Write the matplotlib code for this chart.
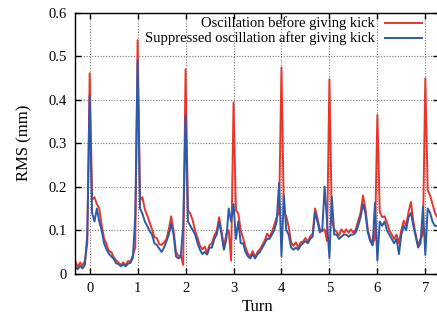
import numpy as np
import matplotlib.pyplot as plt
from matplotlib.lines import Line2D

plt.rcParams['font.family'] = ['Liberation Serif', 'DejaVu Serif']

# turn axis, sampled every 0.05 turn
turn = np.round(np.arange(-0.3, 7.26, 0.05), 2)

rms_before = [
    0.030, 0.015, 0.026, 0.018, 0.030, 0.070,
    0.461, 0.170, 0.176, 0.160, 0.150, 0.110, 0.082, 0.068, 0.052, 0.050,
    0.038, 0.031, 0.026, 0.020, 0.026, 0.019, 0.029, 0.028, 0.042, 0.060,
    0.537, 0.168, 0.176, 0.148, 0.134, 0.118, 0.102, 0.084, 0.082, 0.068,
    0.066, 0.072, 0.079, 0.102, 0.132, 0.098, 0.050, 0.041, 0.042, 0.020,
    0.470, 0.146, 0.138, 0.122, 0.098, 0.082, 0.064, 0.056, 0.062, 0.048,
    0.066, 0.070, 0.088, 0.098, 0.130, 0.098, 0.060, 0.092, 0.100, 0.030,
    0.393, 0.146, 0.138, 0.100, 0.082, 0.060, 0.046, 0.040, 0.052, 0.038,
    0.050, 0.056, 0.066, 0.076, 0.092, 0.084, 0.096, 0.112, 0.130, 0.140,
    0.474, 0.140, 0.132, 0.108, 0.072, 0.064, 0.072, 0.060, 0.072, 0.074,
    0.082, 0.074, 0.086, 0.092, 0.150, 0.128, 0.102, 0.098, 0.102, 0.075,
    0.447, 0.122, 0.102, 0.096, 0.088, 0.102, 0.094, 0.102, 0.094, 0.102,
    0.094, 0.102, 0.122, 0.140, 0.180, 0.150, 0.102, 0.080, 0.070, 0.080,
    0.365, 0.142, 0.130, 0.132, 0.118, 0.100, 0.090, 0.080, 0.090, 0.070,
    0.100, 0.122, 0.110, 0.142, 0.165, 0.120, 0.090, 0.065, 0.080, 0.090,
    0.449, 0.192, 0.180, 0.160, 0.140, 0.130,
]

rms_after = [
    0.015, 0.010, 0.018, 0.012, 0.020, 0.090,
    0.409, 0.140, 0.120, 0.150, 0.120, 0.100, 0.070, 0.056, 0.046, 0.040,
    0.034, 0.024, 0.022, 0.017, 0.021, 0.017, 0.023, 0.025, 0.036, 0.130,
    0.490, 0.150, 0.138, 0.120, 0.110, 0.098, 0.090, 0.070, 0.066, 0.058,
    0.050, 0.060, 0.074, 0.090, 0.115, 0.090, 0.040, 0.035, 0.040, 0.110,
    0.365, 0.120, 0.110, 0.100, 0.090, 0.070, 0.055, 0.045, 0.050, 0.044,
    0.060, 0.060, 0.080, 0.090, 0.120, 0.090, 0.055, 0.080, 0.150, 0.120,
    0.160, 0.080, 0.120, 0.070, 0.070, 0.050, 0.040, 0.035, 0.045, 0.035,
    0.045, 0.050, 0.060, 0.070, 0.080, 0.080, 0.090, 0.100, 0.120, 0.208,
    0.040, 0.180, 0.100, 0.090, 0.060, 0.055, 0.060, 0.055, 0.065, 0.070,
    0.075, 0.070, 0.080, 0.085, 0.140, 0.120, 0.095, 0.100, 0.200, 0.120,
    0.036, 0.177, 0.090, 0.090, 0.080, 0.085, 0.090, 0.090, 0.085, 0.090,
    0.090, 0.095, 0.110, 0.130, 0.160, 0.140, 0.095, 0.075, 0.065, 0.163,
    0.030, 0.120, 0.110, 0.120, 0.100, 0.090, 0.080, 0.070, 0.080, 0.045,
    0.090, 0.110, 0.100, 0.130, 0.140, 0.110, 0.085, 0.060, 0.070, 0.154,
    0.043, 0.150, 0.140, 0.120, 0.110, 0.110,
]

red = '#e8362c'
blue = '#2d5aa6'

fig = plt.figure(figsize=(4.37, 3.2), dpi=100)
# right edge of the frame sits just past the image border, as in the original
ax = fig.add_axes([75.3 / 437, 1 - 273.7 / 320, (439 - 75.3) / 437, (273.7 - 12.7) / 320])

ax.plot(turn, rms_before, color=red, lw=1.4)
ax.plot(turn, rms_after, color=blue, lw=1.4)

ax.set_xlim(-0.3, 7 + (439 - 425.3) / 48)
ax.set_ylim(0, 0.6)
ax.set_xticks(range(0, 8))
ax.set_yticks([0, 0.1, 0.2, 0.3, 0.4, 0.5, 0.6])
ax.set_yticklabels(['0', '0.1', '0.2', '0.3', '0.4', '0.5', '0.6'])
ax.tick_params(direction='in', length=4, width=1, top=True, right=True,
               labelsize=10.5, pad=6, colors='black')
ax.grid(True, color='#777777', linestyle=(0, (1, 1.5)), linewidth=0.8)
for s in ax.spines.values():
    s.set_linewidth(1.0)

ax.set_xlabel('Turn', fontsize=12, labelpad=3)
ax.set_ylabel('RMS (mm)', fontsize=12, labelpad=12)

# gnuplot-style key: right-aligned text, sample line on the right
fig.text(375 / 437, 1 - 23.3 / 320, 'Oscillation before giving kick',
         ha='right', va='center', fontsize=10.5)
fig.text(375 / 437, 1 - 37.7 / 320, 'Suppressed oscillation after giving kick',
         ha='right', va='center', fontsize=10.5)
fig.add_artist(Line2D([385 / 437, 422 / 437], [1 - 23.3 / 320] * 2, color=red, lw=1.4))
fig.add_artist(Line2D([385 / 437, 422 / 437], [1 - 37.7 / 320] * 2, color=blue, lw=1.4))

fig.savefig('out.png', dpi=100)
